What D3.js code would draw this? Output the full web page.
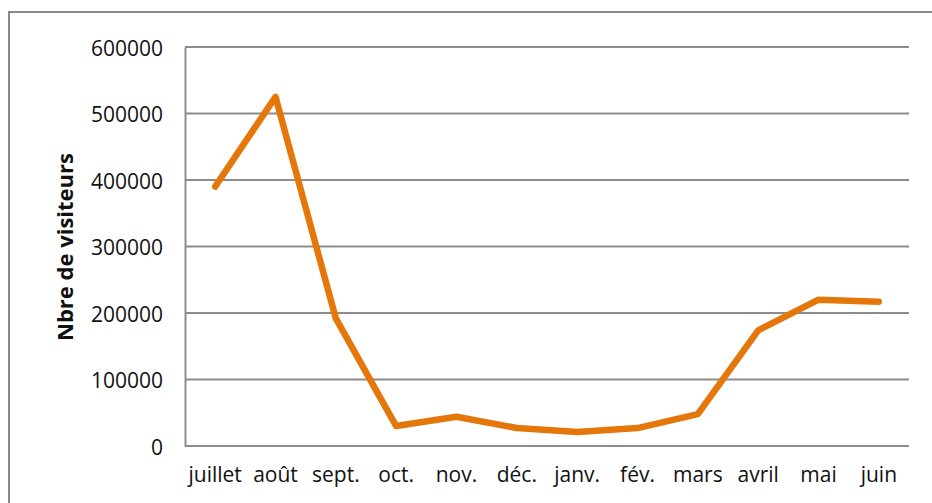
<html>
<head>
<meta charset="utf-8">
<script src="https://d3js.org/d3.v7.min.js"></script>
<style>
  body { margin: 0; background: white; }
  text { font-family: "Open Sans", sans-serif; fill: #111; }
</style>
</head>
<body>
<svg id="chart" width="932" height="503"></svg>
<script>
// months and visitor counts
var months = ["juillet", "août", "sept.", "oct.", "nov.", "déc.", "janv.", "fév.", "mars", "avril", "mai", "juin"];
var visitors = [390000, 525000, 192000, 30000, 44000, 27000, 21000, 27000, 48000, 174000, 220000, 217000];
var yTicks = [0, 100000, 200000, 300000, 400000, 500000, 600000];

var svg = d3.select("#chart");

// outer frame, runs off the right and bottom edges
svg.append("rect")
  .attr("x", 9).attr("y", 12)
  .attr("width", 960).attr("height", 520)
  .attr("fill", "none")
  .attr("stroke", "#888")
  .attr("stroke-width", 2);

var plotLeft = 185, plotRight = 909, plotTop = 47, plotBottom = 446;

var x = d3.scaleBand().domain(months).range([plotLeft, plotRight]);
var y = d3.scaleLinear().domain([0, 600000]).range([plotBottom, plotTop]);

// gridlines
svg.append("g")
  .selectAll("line")
  .data(yTicks)
  .enter()
  .append("line")
    .attr("x1", plotLeft).attr("x2", plotRight)
    .attr("y1", function (d) { return y(d); })
    .attr("y2", function (d) { return y(d); })
    .attr("stroke", "#8c8c8c")
    .attr("stroke-width", 2);

// y axis
var yAxis = svg.append("g")
  .attr("transform", "translate(" + plotLeft + ",0)")
  .call(d3.axisLeft(y).tickValues(yTicks).tickSize(0).tickPadding(22).tickFormat(d3.format("d")));
yAxis.select(".domain").attr("stroke", "#8c8c8c").attr("stroke-width", 2);
yAxis.selectAll("text")
  .attr("font-size", 21)
  .attr("font-family", "Open Sans, sans-serif")
  .attr("fill", "#111")
  .attr("dy", "0.4em");

// x axis labels
var xAxis = svg.append("g")
  .attr("transform", "translate(0," + plotBottom + ")")
  .call(d3.axisBottom(x).tickSize(0).tickPadding(21));
xAxis.select(".domain").remove();
xAxis.selectAll("text")
  .attr("font-size", 21)
  .attr("font-family", "Open Sans, sans-serif")
  .attr("fill", "#111");

// axis title
svg.append("text")
  .attr("transform", "translate(73,247) rotate(-90)")
  .style("text-anchor", "middle")
  .attr("font-size", 22)
  .attr("font-weight", "bold")
  .text("Nbre de visiteurs");

// the line
var line = d3.line()
  .x(function (d, i) { return x(months[i]) + x.bandwidth() / 2; })
  .y(function (d) { return y(d); });

svg.append("path")
  .datum(visitors)
  .attr("d", line)
  .attr("fill", "none")
  .attr("stroke", "#e4760a")
  .attr("stroke-width", 6.5)
  .attr("stroke-linecap", "round")
  .attr("stroke-linejoin", "round");
</script>
</body>
</html>
